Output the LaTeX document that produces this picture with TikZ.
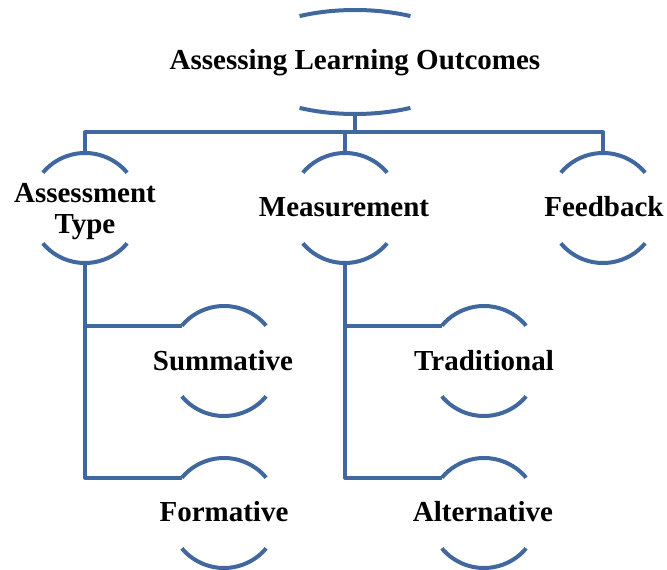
\documentclass[tikz,border=0pt]{standalone}
\usepackage{fontspec}
\setmainfont{Liberation Serif}
\definecolor{ln}{RGB}{64,104,158}
\begin{document}
\begin{tikzpicture}[x=1pt,y=1pt,
  arcline/.style={draw=ln,line width=4pt},
  conn/.style={draw=ln,line width=4pt,line join=round},
  lbl/.style={font=\fontsize{29}{31}\selectfont\bfseries,inner sep=0pt,anchor=base,align=center}]
\useasboundingbox (0,0) rectangle (667,-570);
% ---- centres of the shapes
\coordinate (c0) at (355,-62);
\coordinate (cA) at (85,-208);
\coordinate (cM) at (345,-208);
\coordinate (cF) at (603,-208);
\coordinate (cS) at (224,-361);
\coordinate (cFo) at (224,-513);
\coordinate (cT) at (484,-361);
\coordinate (cAl) at (484,-513);
% ---- labels
\node[lbl] (top) at (355,-69) {Assessing Learning Outcomes};
\node[lbl] (asst) at (85,-233) {Assessment\\Type};
\node[lbl] (meas) at (344,-216) {Measurement};
\node[lbl] (feed) at (604,-216) {Feedback};
\node[lbl] (summ) at (223,-370) {Summative};
\node[lbl] (form) at (224,-521) {Formative};
\node[lbl] (trad) at (484,-370) {Traditional};
\node[lbl] (alt) at (483,-521) {Alternative};
% ---- top ellipse arcs
\draw[arcline] ([shift={(62:118 and 52)}]c0) arc[start angle=62,end angle=118,x radius=118,y radius=52];
\draw[arcline] ([shift={(242:118 and 52)}]c0) arc[start angle=242,end angle=298,x radius=118,y radius=52];
% ---- circle arcs
\foreach \c in {cA,cM,cF,cS,cFo,cT,cAl}{
  \draw[arcline] ([shift={(40:55)}]\c) arc[start angle=40,end angle=140,radius=55];
  \draw[arcline] ([shift={(220:55)}]\c) arc[start angle=220,end angle=320,radius=55];
}
% ---- connector end points
\coordinate (topB) at ([yshift=-52]c0);
\coordinate (aT) at ([yshift=55]cA);
\coordinate (aB) at ([yshift=-55]cA);
\coordinate (mT) at ([yshift=55]cM);
\coordinate (mB) at ([yshift=-55]cM);
\coordinate (fT) at ([yshift=55]cF);
\coordinate (sL) at ([shift={(140:55)}]cS);
\coordinate (foL) at ([shift={(140:55)}]cFo);
\coordinate (tL) at ([shift={(140:55)}]cT);
\coordinate (alL) at ([shift={(140:55)}]cAl);
\coordinate (bar) at ([yshift=-18]topB);
% ---- connectors
\draw[conn] (topB) -- (bar) -| (aT);
\draw[conn] (topB) -- (bar) -| (mT);
\draw[conn] (topB) -- (bar) -| (fT);
\draw[conn] (aB) |- (sL);
\draw[conn] (aB) |- (foL);
\draw[conn] (mB) |- (tL);
\draw[conn] (mB) |- (alL);
\end{tikzpicture}
\end{document}
